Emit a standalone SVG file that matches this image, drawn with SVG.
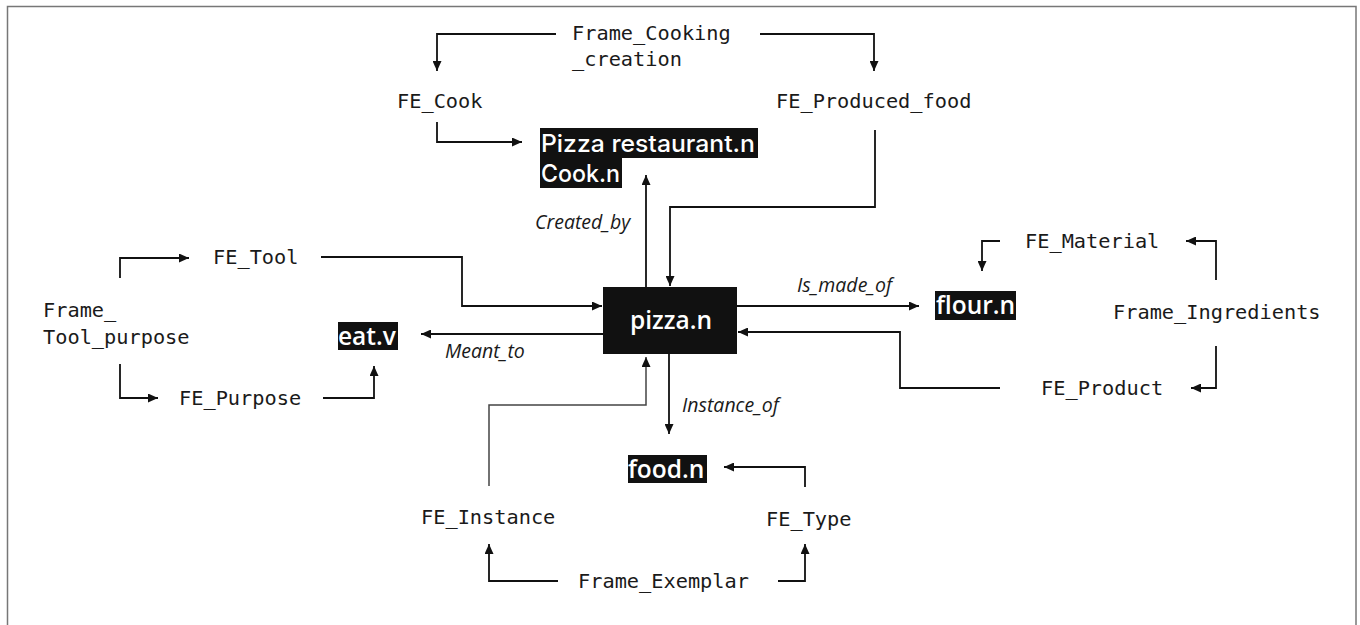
<svg xmlns="http://www.w3.org/2000/svg" width="1360" height="625" viewBox="0 0 1360 625">
<style>
.m{font-family:"DejaVu Sans Mono","Liberation Mono",monospace;font-size:20.3px;fill:#1a1a1a}
.b{font-family:"Open Sans","Noto Sans",sans-serif;font-size:24.5px;font-weight:600;fill:#fff}
.b2{font-family:Inter,"Open Sans",sans-serif;font-size:24px;font-weight:500;fill:#fff}
.i{font-family:"Open Sans","Noto Sans",sans-serif;font-size:19.5px;font-style:italic;fill:#1a1a1a}
.box{fill:#111}
.c{fill:none;stroke:#111;stroke-width:1.8;marker-end:url(#a)}
.g{fill:none;stroke:#444;stroke-width:1.5;marker-end:url(#a)}
</style>
<defs>
<marker id="a" viewBox="0 0 10 10" refX="10" refY="5" markerWidth="10" markerHeight="9" orient="auto" markerUnits="userSpaceOnUse" preserveAspectRatio="none">
<path d="M0,0 L10,5 L0,10 z" fill="#111"/>
</marker>
</defs>
<rect x="7.5" y="6.5" width="1348.5" height="630" fill="#fff" stroke="#777" stroke-width="1.5"/>
<g id="connectors">
<path class="c" d="M556,34 H437 V71"/>
<path class="c" d="M760,34 H874 V71"/>
<path class="c" d="M437,122 V142 H522"/>
<path class="c" d="M646,287 V175"/>
<path class="c" d="M875,130 V207 H670 V286"/>
<path class="c" d="M120,278 V258 H189"/>
<path class="c" d="M120,364 V398 H158"/>
<path class="c" d="M323,398 H374 V366"/>
<path class="c" d="M321,257 H462 V306 H602"/>
<path class="c" d="M603,334 H421"/>
<path class="c" d="M737,306 H919"/>
<path class="c" d="M1000,241 H982 V271"/>
<path class="c" d="M1216,280 V241 H1186"/>
<path class="c" d="M1216,346 V388 H1191"/>
<path class="c" d="M1000,388 H900 V332 H738"/>
<path class="c" d="M669,354 V434"/>
<path class="c" d="M805,487 V467 H724"/>
<path class="g" d="M489,486 V405 H646 V357"/>
<path class="c" d="M558,581 H489 V544"/>
<path class="c" d="M778,581 H805 V544"/>
</g>
<g id="frame-cooking"><text class="m" x="572" y="40">Frame_Cooking<tspan x="572" y="66">_creation</tspan></text></g>
<g id="fe-cook"><text class="m" x="397" y="108">FE_Cook</text></g>
<g id="fe-produced-food"><text class="m" x="776" y="108">FE_Produced_food</text></g>
<g id="pizza-restaurant">
<rect class="box" x="540" y="128" width="218" height="30"/>
<rect class="box" x="540" y="157" width="82" height="31"/>
<text class="b2" x="541" y="152" textLength="214" lengthAdjust="spacingAndGlyphs">Pizza restaurant.n</text>
<text class="b2" x="541" y="182" textLength="79" lengthAdjust="spacingAndGlyphs">Cook.n</text>
</g>
<g id="lbl-created"><text class="i" x="535" y="229">Created_by</text></g>
<g id="pizza"><rect class="box" x="603" y="287" width="134" height="67"/><text class="b" x="671" y="329" text-anchor="middle">pizza.n</text></g>
<g id="fe-tool"><text class="m" x="213" y="264">FE_Tool</text></g>
<g id="frame-tool-purpose"><text class="m" x="43" y="317">Frame_<tspan x="43" y="344">Tool_purpose</tspan></text></g>
<g id="fe-purpose"><text class="m" x="179" y="405">FE_Purpose</text></g>
<g id="eat"><rect class="box" x="338" y="322" width="60" height="28"/><text class="b" x="338" y="345">eat.v</text></g>
<g id="lbl-meant"><text class="i" x="445" y="358">Meant_to</text></g>
<g id="lbl-made"><text class="i" x="797" y="292">Is_made_of</text></g>
<g id="flour"><rect class="box" x="935" y="291" width="81" height="29"/><text class="b" x="936" y="314">flour.n</text></g>
<g id="fe-material"><text class="m" x="1025" y="248">FE_Material</text></g>
<g id="frame-ingredients"><text class="m" x="1113" y="319">Frame_Ingredients</text></g>
<g id="fe-product"><text class="m" x="1041" y="395">FE_Product</text></g>
<g id="lbl-instance"><text class="i" x="682" y="412">Instance_of</text></g>
<g id="food"><rect class="box" x="628" y="455" width="79" height="28"/><text class="b" x="628" y="478">food.n</text></g>
<g id="fe-type"><text class="m" x="766" y="526">FE_Type</text></g>
<g id="fe-instance"><text class="m" x="421" y="524">FE_Instance</text></g>
<g id="frame-exemplar"><text class="m" x="578" y="588">Frame_Exemplar</text></g>
</svg>
